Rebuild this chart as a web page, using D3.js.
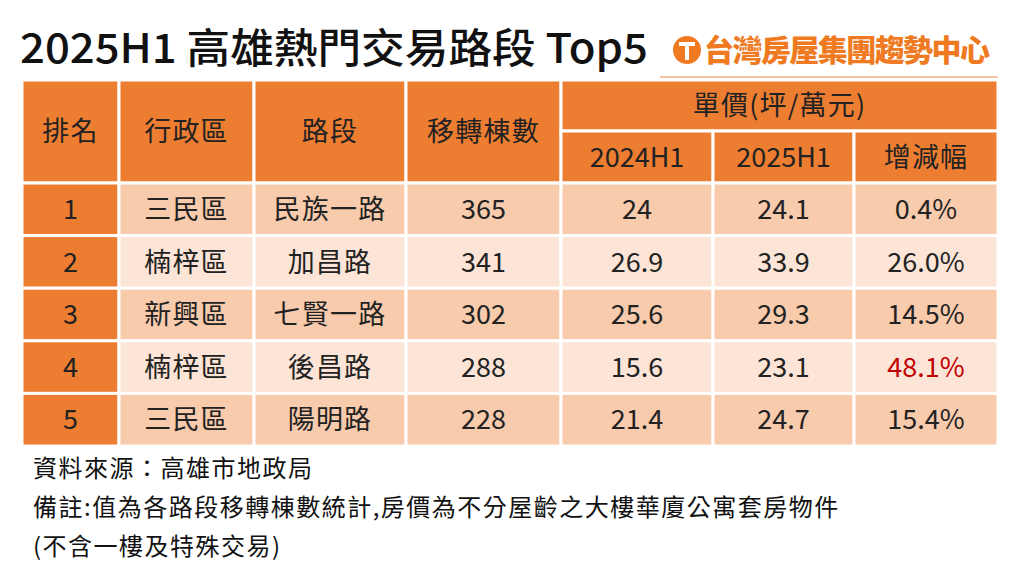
<!DOCTYPE html>
<html><head><meta charset="utf-8">
<script src="https://cdn.jsdelivr.net/npm/d3@7"></script>
<style>body{margin:0;background:#fff}svg{display:block}</style>
</head><body><svg id="c" width="1024" height="572"></svg>
<script>
const title = "2025H1 高雄熱門交易路段 Top5";
const ranks = ["1","2","3","4","5"];
const districts = ["三民區","楠梓區","新興區","楠梓區","三民區"];
const roads = ["民族一路","加昌路","七賢一路","後昌路","陽明路"];
const transfers = [365,341,302,288,228];
const price2024 = ["24","26.9","25.6","15.6","21.4"];
const price2025 = ["24.1","33.9","29.3","23.1","24.7"];
const changes = ["0.4%","26.0%","14.5%","48.1%","15.4%"];
const notes = ["資料來源：高雄市地政局","備註:值為各路段移轉棟數統計,房價為不分屋齡之大樓華廈公寓套房物件","(不含一樓及特殊交易)"];

const svg = d3.select("#c");
const F = "'Noto Sans CJK TC','Noto Sans',sans-serif";
const colEdges = [22,119,254,406,561,713,854,998];
const x = d3.scaleOrdinal().domain(d3.range(7)).range(colEdges.slice(0,7));
const w = i => colEdges[i+1]-colEdges[i];
const y = d3.scaleBand().domain(ranks).range([183,446]);
const orange="#ED7D31", dark="#F8CBAD", light="#FCE4D6";

svg.append("text").attr("x",20).attr("y",63).attr("font-family",F).attr("font-size",41).attr("font-weight",500).attr("fill","#111")
  .attr("textLength",628).attr("lengthAdjust","spacingAndGlyphs").text(title);
const lg = svg.append("g").attr("transform","translate(687,50)");
lg.append("circle").attr("r",14).attr("fill","#F07A22");
lg.append("path").attr("d","M-8,-6H8M0,-6V10").attr("stroke","#fff").attr("stroke-width",4).attr("fill","none");
lg.append("text").attr("x",17).attr("y",11).attr("font-family",F).attr("font-size",30).attr("font-weight",900).attr("fill","#F07A22")
  .attr("textLength",286).attr("lengthAdjust","spacing").text("台灣房屋集團趨勢中心");
svg.append("line").attr("x1",660).attr("x2",998).attr("y1",77).attr("y2",77).attr("stroke","#F4B183").attr("stroke-width",1.5);

const g = svg.append("g");
function cell(x0,y0,ww,hh,fill,txt,color){
  const cjk = /[\u4e00-\u9fff]/.test(String(txt));
  g.append("rect").attr("x",x0).attr("y",y0).attr("width",ww).attr("height",hh).attr("fill",fill).attr("stroke","#fff").attr("stroke-width",3);
  g.append("text").attr("x",x0+ww/2).attr("y",y0+hh/2).attr("dy","0.36em").attr("text-anchor","middle").attr("font-family",F)
    .attr("font-size",27).attr("letter-spacing",cjk?1.2:0).attr("fill",color||"#222").text(txt);
}
const heads = ["排名","行政區","路段","移轉棟數"];
heads.forEach((h,i)=>cell(x(i),80,w(i),103,orange,h));
cell(x(4),80,colEdges[7]-colEdges[4],51,orange,"單價(坪/萬元)");
["2024H1","2025H1","增減幅"].forEach((h,j)=>cell(x(4+j),131,w(4+j),52,orange,h));
ranks.forEach((r,i)=>{
  const y0=y(r), hh=y.bandwidth(), fill=i%2===0?dark:light;
  const vals=[r,districts[i],roads[i],transfers[i],price2024[i],price2025[i],changes[i]];
  vals.forEach((v,j)=>{
    const c = (j===6 && parseFloat(v)===d3.max(changes,s=>parseFloat(s))) ? "#C00000" : "#222";
    cell(x(j),y0,w(j),hh,j===0?orange:fill,v,c);
  });
});
notes.forEach((n,i)=>svg.append("text").attr("x",33).attr("y",[477,516,555][i]).attr("font-family",F).attr("font-size",24).attr("letter-spacing",1.5).attr("fill","#111").text(n));
</script></body></html>
